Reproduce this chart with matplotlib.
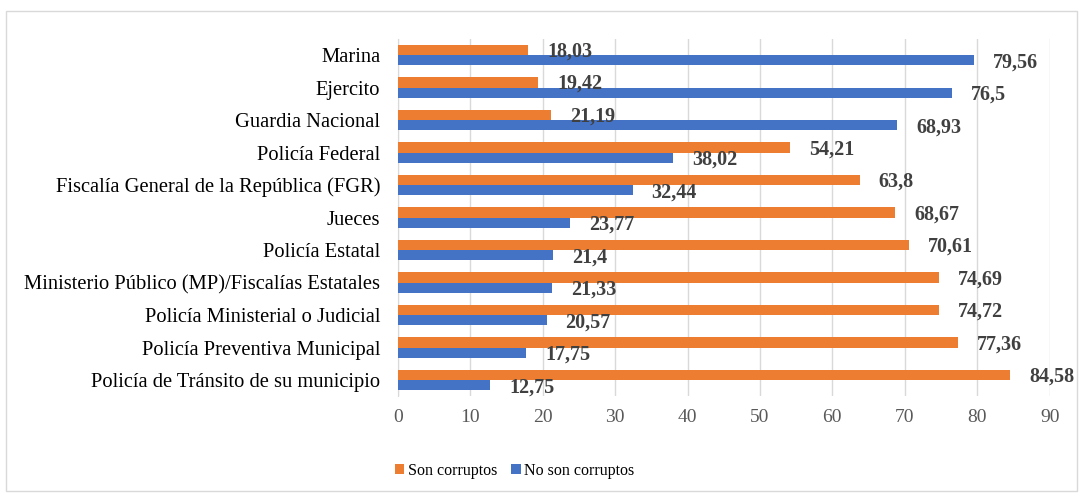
import numpy as np
import matplotlib
matplotlib.use("Agg")
import matplotlib.pyplot as plt
from matplotlib.patches import Rectangle

categorias = ["Marina", "Ejercito", "Guardia Nacional", "Policía Federal",
              "Fiscalía General de la República (FGR)", "Jueces", "Policía Estatal",
              "Ministerio Público (MP)/Fiscalías Estatales", "Policía Ministerial o Judicial",
              "Policía Preventiva Municipal", "Policía de Tránsito de su municipio"]
son_corruptos = [18.03, 19.42, 21.19, 54.21, 63.8, 68.67, 70.61, 74.69, 74.72, 77.36, 84.58]
no_son_corruptos = [79.56, 76.5, 68.93, 38.02, 32.44, 23.77, 21.4, 21.33, 20.57, 17.75, 12.75]
etiquetas_son = ["18,03", "19,42", "21,19", "54,21", "63,8", "68,67", "70,61", "74,69", "74,72", "77,36", "84,58"]
etiquetas_no = ["79,56", "76,5", "68,93", "38,02", "32,44", "23,77", "21,4", "21,33", "20,57", "17,75", "12,75"]

plt.rcParams['font.family'] = ['Liberation Serif', 'DejaVu Serif']

naranja = '#ED7D31'
azul = '#4472C4'

fig = plt.figure(figsize=(10.81, 4.93), dpi=100)
ax = fig.add_axes([0.368, 0.1962, 0.603, 0.7252])

y = np.arange(len(categorias))
h = 0.31
ax.barh(y - h / 2, son_corruptos, height=h, color=naranja, label='Son corruptos', zorder=3)
ax.barh(y + h / 2, no_son_corruptos, height=h, color=azul, label='No son corruptos', zorder=3)

# etiquetas de valores
for i in range(len(categorias)):
    ax.text(son_corruptos[i] + 2.6, y[i] - h / 2 + 0.05, etiquetas_son[i], va='center', ha='left',
            fontsize=14.5, fontweight='bold', color='#404040')
    ax.text(no_son_corruptos[i] + 2.6, y[i] + h / 2 + 0.07, etiquetas_no[i], va='center', ha='left',
            fontsize=14.5, fontweight='bold', color='#404040')

ax.set_ylim(len(categorias) - 0.5, -0.5)
ax.set_xlim(0, 90)
ax.set_xticks(range(0, 91, 10))
ax.set_yticks(y)
ax.set_yticklabels(categorias, fontsize=14.8, color='black')
ax.tick_params(axis='y', length=0, pad=12.5)
ax.tick_params(axis='x', length=0, pad=9, labelsize=14, labelcolor='#595959')
ax.grid(axis='x', color='#d9d9d9', linewidth=1, zorder=0)
for s in ['top', 'right', 'bottom']:
    ax.spines[s].set_visible(False)
ax.spines['left'].set_color('#d9d9d9')

fig.legend(loc='lower left', bbox_to_anchor=(0.352, 0.0), ncol=2, frameon=False,
           fontsize=11.5, handlelength=0.6, handleheight=0.6, handletextpad=0.2,
           columnspacing=0.9)

fig.patches.append(Rectangle((0.006, 0.005), 0.99, 0.972, transform=fig.transFigure,
                             fill=False, edgecolor='#d9d9d9', linewidth=1))

fig.savefig('out.png', dpi=100)
